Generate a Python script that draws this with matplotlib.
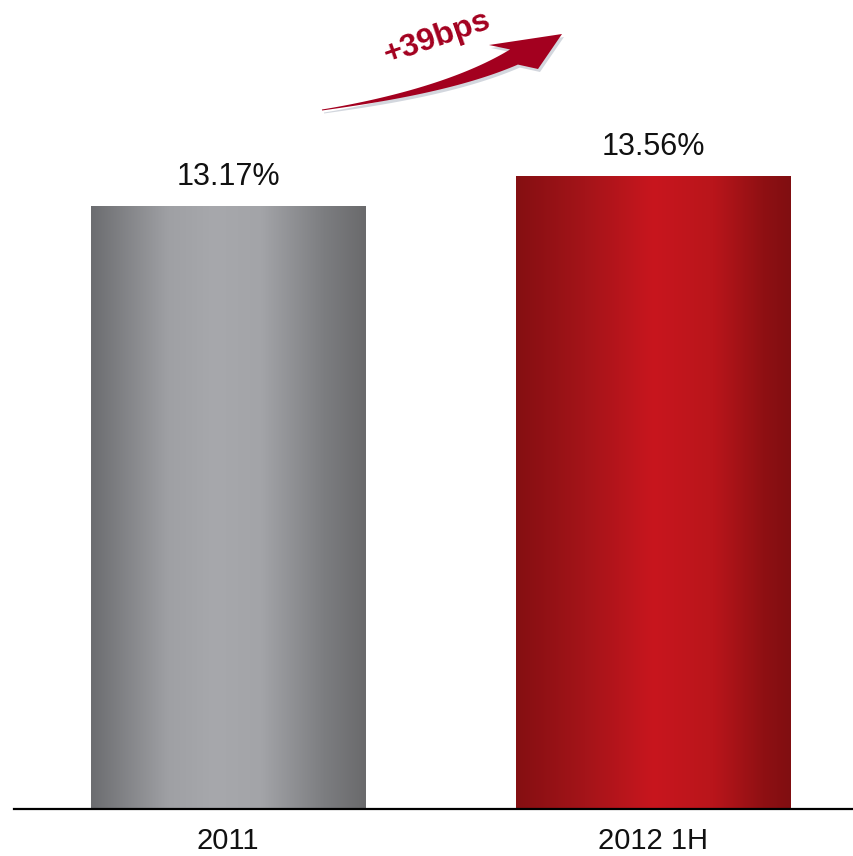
"""
Capital adequacy ratio, 2011 vs 2012 1H, with a +39bps callout arrow.
Output: out.png
"""

import numpy as np
import matplotlib
matplotlib.use("Agg")
import matplotlib.pyplot as plt
from matplotlib.colors import LinearSegmentedColormap
from matplotlib.patches import Polygon

plt.rcParams["font.family"] = ["Liberation Sans", "DejaVu Sans"]

# ---------------------------------------------------------------------------
# Data
# ---------------------------------------------------------------------------
periods = ["2011", "2012 1H"]
ratios = [13.17, 13.56]           # %
change_label = "+39bps"

W, H = 854, 856                   # canvas in pixels

# horizontal shading of each column: dark edges, bright middle
gray_cmap = LinearSegmentedColormap.from_list(
    "gray_bar",
    [(0.0, "#6c6d70"), (0.28, "#9fa0a4"), (0.45, "#a7a8ac"),
     (0.62, "#a3a4a8"), (0.85, "#7c7d80"), (1.0, "#6a6a6c")])
red_cmap = LinearSegmentedColormap.from_list(
    "red_bar",
    [(0.0, "#850f12"), (0.25, "#a41419"), (0.5, "#c8161e"),
     (0.72, "#b9151b"), (0.9, "#8f1013"), (1.0, "#800e11")])
bar_cmaps = [gray_cmap, red_cmap]
ARROW_RED = "#a3001f"


def to_fig(px, py):
    """pixel coords (origin top-left) -> figure fraction"""
    return np.column_stack([np.asarray(px) / W, 1 - np.asarray(py) / H])


fig = plt.figure(figsize=(W / 100, H / 100), dpi=100)
fig.patch.set_facecolor("white")
ax = fig.add_axes([14 / W, (H - 809) / H, (W - 14) / W, 809 / H])

x = np.arange(len(periods))
bars = ax.bar(x, ratios, width=0.647, color="none", edgecolor="none", zorder=2)

ax.set_xlim(-0.504, 1.473)
ax.set_ylim(5.41, 15.82)

# gradient fill clipped to each bar
grad = np.linspace(0, 1, 256).reshape(1, -1)
for bar, cmap in zip(bars, bar_cmaps):
    x0, w = bar.get_x(), bar.get_width()
    y0, y1 = ax.get_ylim()[0], bar.get_height()
    im = ax.imshow(grad, cmap=cmap, aspect="auto", extent=(x0, x0 + w, y0, y1),
                   interpolation="bicubic", zorder=2)
    im.set_clip_path(bar)

# value labels
for bar, v in zip(bars, ratios):
    ax.annotate(f"{v:.2f}%", (bar.get_x() + bar.get_width() / 2, v),
                xytext=(0, 10), textcoords="offset points",
                ha="center", va="bottom", fontsize=22, color="#111111")

ax.set_xticks(x)
ax.set_xticklabels(periods, fontsize=21, color="#111111")
ax.tick_params(axis="x", length=0, pad=13)
ax.set_yticks([])
for side in ["top", "right", "left"]:
    ax.spines[side].set_visible(False)
ax.spines["bottom"].set_linewidth(1.6)
ax.spines["bottom"].set_color("black")
ax.set_facecolor("none")

# ---------------------------------------------------------------------------
# Curved callout arrow (tapered shaft + triangular head)
# ---------------------------------------------------------------------------
p0 = np.array([322.0, 110.0])      # tail
p1 = np.array([448.0, 91.0])       # bezier control
p2 = np.array([514.0, 57.0])       # centre of the head base
t = np.linspace(0, 1, 80)[:, None]
centre = (1 - t) ** 2 * p0 + 2 * (1 - t) * t * p1 + t ** 2 * p2
deriv = 2 * (1 - t) * (p1 - p0) + 2 * t * (p2 - p1)
normal = np.column_stack([-deriv[:, 1], deriv[:, 0]])
normal /= np.linalg.norm(normal, axis=1, keepdims=True)
half = (0.5 + 8.0 * t[:, 0] ** 1.3)[:, None]
upper = centre - normal * half
lower = centre + normal * half

tip = np.array([562.0, 34.0])
barb_a = np.array([489.0, 45.0])
barb_b = np.array([538.0, 69.0])
# order the shaft edges so the head barbs join the right side
if np.linalg.norm(upper[-1] - barb_a) > np.linalg.norm(lower[-1] - barb_a):
    upper, lower = lower, upper
outline = np.vstack([upper, barb_a, tip, barb_b, lower[::-1]])

shadow = Polygon(to_fig(outline[:, 0] + 2, outline[:, 1] + 3),
                 closed=True, transform=fig.transFigure,
                 facecolor="#d3d7de", edgecolor="none", zorder=3)
arrow = Polygon(to_fig(outline[:, 0], outline[:, 1]), closed=True,
                transform=fig.transFigure, facecolor=ARROW_RED,
                edgecolor="none", zorder=4)
fig.add_artist(shadow)
fig.add_artist(arrow)

fig.text(437 / W, 1 - 38 / H, change_label, rotation=19, rotation_mode="anchor",
         ha="center", va="center", fontsize=23, fontweight="bold",
         color=ARROW_RED)

fig.savefig("out.png", dpi=100, facecolor=fig.get_facecolor())
